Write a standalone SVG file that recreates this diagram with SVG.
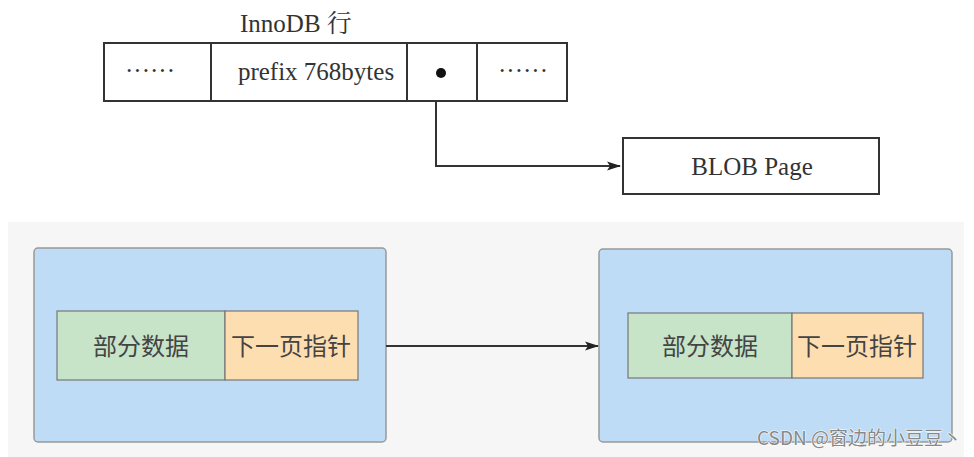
<svg xmlns="http://www.w3.org/2000/svg" width="974" height="457" viewBox="0 0 974 457">
<defs>
<style>
.cell{fill:#fff;stroke:#333;stroke-width:2}
.serif{font-family:"Liberation Serif","Noto Serif CJK SC","Noto Sans CJK SC",serif;font-size:25px;fill:#333}
.page{fill:#bedcf6;stroke:#999;stroke-width:1.5}
.data{fill:#c7e3c8;stroke:#777;stroke-width:1.2}
.ptr{fill:#fddeb0;stroke:#777;stroke-width:1.2}
.cjk{font-family:"Noto Sans CJK SC",sans-serif;font-size:24px;fill:#444;text-anchor:middle}
.conn{fill:none;stroke:#333;stroke-width:2}
</style>
<marker id="arr" markerWidth="14" markerHeight="10" refX="13" refY="5" orient="auto" markerUnits="userSpaceOnUse">
<path d="M0,0.5 L14,5 L0,9.5 L3,5 Z" fill="#222"/>
</marker>
</defs>
<rect width="974" height="457" fill="#fff"/>
<rect x="8" y="222" width="956" height="235" fill="#f6f6f6"/>

<g id="innodb-row">
<text class="serif" x="240" y="32">InnoDB 行</text>
<rect class="cell" x="104" y="43" width="107" height="58"/>
<rect class="cell" x="211" y="43" width="196" height="58"/>
<rect class="cell" x="407" y="43" width="70" height="58"/>
<rect class="cell" x="477" y="43" width="90" height="58"/>
<text class="serif" x="150" y="79" text-anchor="middle">······</text>
<text class="serif" x="316" y="80" text-anchor="middle">prefix 768bytes</text>
<circle cx="441" cy="73" r="5" fill="#111"/>
<text class="serif" x="523" y="79" text-anchor="middle">······</text>
</g>

<g id="blob-page">
<rect class="cell" x="623" y="138" width="256" height="56"/>
<text class="serif" x="752" y="175" text-anchor="middle">BLOB Page</text>
</g>

<g id="page1">
<rect class="page" x="34" y="248" width="352" height="194" rx="4"/>
<rect class="data" x="57" y="311" width="168" height="69"/>
<rect class="ptr" x="225" y="311" width="133" height="69"/>
<text class="cjk" x="141" y="355">部分数据</text>
<text class="cjk" x="291" y="355">下一页指针</text>
</g>

<g id="page2">
<rect class="page" x="599" y="249" width="353" height="193" rx="4"/>
<rect class="data" x="628" y="313" width="164" height="65"/>
<rect class="ptr" x="792" y="313" width="131" height="65"/>
<text class="cjk" x="710" y="355">部分数据</text>
<text class="cjk" x="857" y="355">下一页指针</text>
</g>

<g id="connectors">
<path class="conn" d="M436,101 V166 H620" marker-end="url(#arr)"/>
<path class="conn" d="M386,346 H598" marker-end="url(#arr)"/>
</g>

<text x="962" y="445" text-anchor="end" font-family="'Noto Sans CJK SC',sans-serif" font-size="19" fill="#888" stroke="#fff" stroke-width="1" paint-order="stroke">CSDN @窗边的小豆豆丶</text>
</svg>
